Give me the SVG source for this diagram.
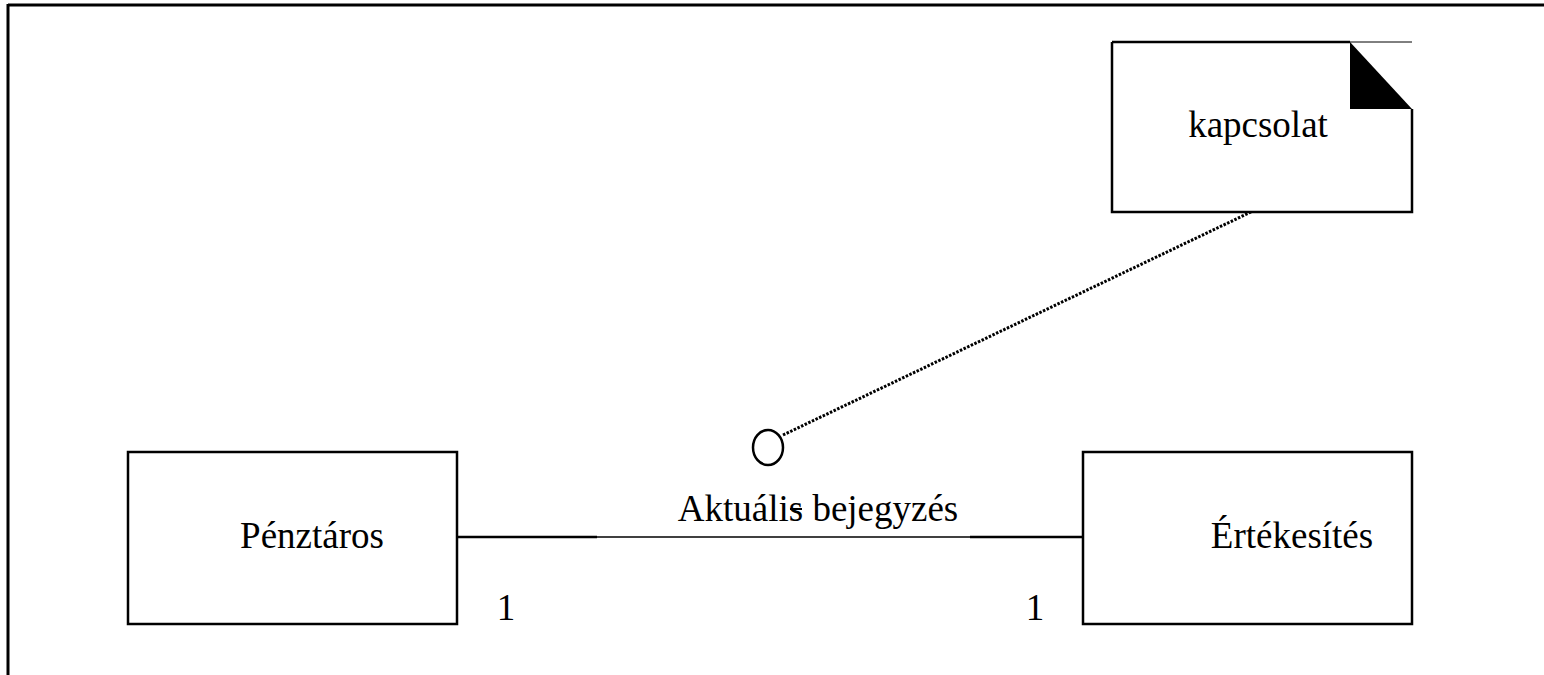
<svg xmlns="http://www.w3.org/2000/svg" width="1544" height="675" viewBox="0 0 1544 675">
<style>
.box{fill:#fff;stroke:#000;stroke-width:2.5}
.t{font-family:'Liberation Serif','Times New Roman',Times,'DejaVu Serif',serif;font-size:37px;fill:#000}
.ln{stroke:#000;fill:none}
</style>
<rect width="1544" height="675" fill="#fff"/>
<g id="frame">
<line class="ln" x1="8" y1="5" x2="1544" y2="5" stroke-width="3"/>
<line class="ln" x1="8" y1="4" x2="8" y2="675" stroke-width="3"/>
</g>
<g id="connectors">
<line class="ln" x1="457" y1="537" x2="597" y2="537" stroke-width="2.5"/>
<line class="ln" x1="597" y1="537" x2="970" y2="537" stroke-width="1.5"/>
<line class="ln" x1="970" y1="537" x2="1083" y2="537" stroke-width="2.5"/>
<line class="ln" x1="783" y1="435" x2="1253" y2="211" stroke-width="3" stroke-dasharray="2.5 1.5"/>
</g>
<g id="penztaros">
<rect class="box" x="128" y="452" width="329" height="172"/>
<text class="t" x="312" y="548" text-anchor="middle" font-family="Liberation Serif, serif">Pénztáros</text>
</g>
<g id="ertekesites">
<rect class="box" x="1083" y="452" width="329" height="172"/>
<text class="t" x="1292" y="548" text-anchor="middle" font-family="Liberation Serif, serif">Értékesítés</text>
</g>
<g id="kapcsolat">
<path class="box" d="M1112,42 H1350 M1412,109 V212 H1112 V42" fill="#fff"/>
<line class="ln" x1="1350" y1="42" x2="1412" y2="42" stroke-width="1"/>
<polygon points="1350,42 1412,109 1350,109" fill="#000"/>
<text class="t" x="1258" y="137" text-anchor="middle" font-family="Liberation Serif, serif">kapcsolat</text>
</g>
<g id="assoc">
<ellipse class="ln" cx="768" cy="447.5" rx="15" ry="17.5" stroke-width="2.5"/>
<text class="t" x="818" y="521" text-anchor="middle" font-family="Liberation Serif, serif">Aktuális bejegyzés</text>
<line class="ln" x1="790" y1="509" x2="802" y2="509" stroke-width="2"/>
</g>
<g id="mult">
<text class="t" x="506" y="620" text-anchor="middle" font-family="Liberation Serif, serif">1</text>
<text class="t" x="1035" y="620" text-anchor="middle" font-family="Liberation Serif, serif">1</text>
</g>
</svg>
